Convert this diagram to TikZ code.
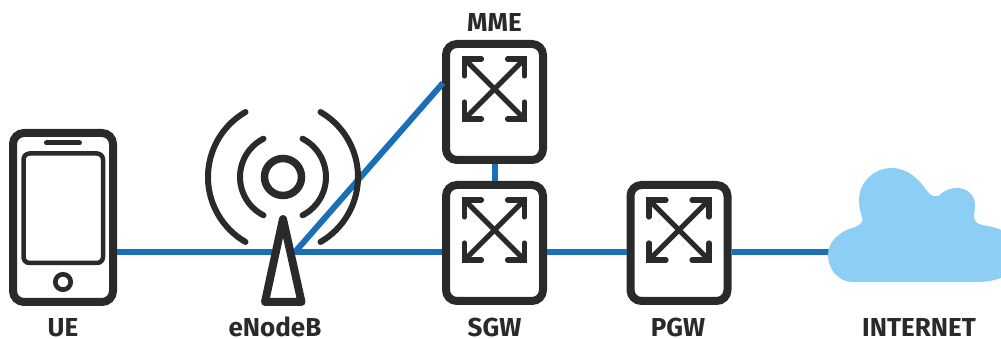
\documentclass[tikz,border=0pt]{standalone}
\usepackage{fontspec}
\setmainfont{Fira Sans}
\usetikzlibrary{calc}
\definecolor{icondark}{HTML}{2A2A2A}
\definecolor{linkblue}{HTML}{1A6FB6}
\definecolor{cloudblue}{HTML}{8DCFF4}
\tikzset{
    switchbox/.style={draw=icondark, line width=8pt, rounded corners=11pt, minimum width=97pt, minimum height=116pt, inner sep=0pt},
    netlabel/.style={text=icondark, font=\fontsize{26}{26}\selectfont\bfseries, inner sep=0pt, anchor=base},
    netlink/.style={draw=linkblue, line width=6pt},
    crossline/.style={draw=icondark, line width=5.2pt, line cap=round, line join=miter}
}
\newcommand{\crossarrows}[1]{
    \begin{scope}[shift={($(#1)+(0,13)$)}]
        \draw[crossline] (-30,30) -- (30,-30);
        \draw[crossline] (-30,-30) -- (30,30);
        \foreach \sx/\sy in {1/1, 1/-1, -1/1, -1/-1}
            \draw[crossline] (\sx*13,\sy*30) -- (\sx*30,\sy*30) -- (\sx*30,\sy*13);
    \end{scope}
}

\begin{document}
\begin{tikzpicture}[x=1pt, y=1pt]
    \useasboundingbox (0,0) rectangle (1001,339);
    \clip (0,0) rectangle (1001,339);

    \node[draw=icondark, line width=8pt, rounded corners=11pt, minimum width=100pt, minimum height=169pt, inner sep=0pt] (ue) at (63,121.5) {};
    \node[switchbox] (mme) at (494.5,237) {};
    \node[switchbox] (sgw) at (494.5,96) {};
    \node[switchbox] (pgw) at (679,96) {};
    \coordinate (enb) at (295,87);
    \coordinate (mmeport) at (443,256);
    \coordinate (cloudport) at (832,87);

    \draw[netlink] (ue.east |- enb) -- (enb);
    \draw[netlink] (enb) -- (sgw.west |- enb);
    \draw[netlink] (enb) -- (mmeport);
    \draw[netlink] (mme) -- (sgw);
    \draw[netlink] (sgw.east |- enb) -- (pgw.west |- enb);
    \draw[netlink] (pgw.east |- enb) -- (cloudport);

    % phone
    \draw[icondark, line width=4.5pt, rounded corners=6pt] (23.5,76) rectangle (103,185.5);
    \draw[icondark, line width=5pt, line cap=round] (46.5,196) -- (79.5,196);
    \draw[icondark, line width=4.7pt] (63,57) circle (7.7);

    % antenna
    \draw[icondark, line width=7.5pt] (283,162) circle (18.5);
    \draw[icondark, line width=6pt, line cap=round] (283,162) ++(117:43) arc (117:243:43);
    \draw[icondark, line width=6pt, line cap=round] (283,162) ++(63:43) arc (63:-63:43);
    \draw[icondark, line width=6pt, line cap=round] (283,162) ++(120:75) arc (120:240:75);
    \draw[icondark, line width=6pt, line cap=round] (283,162) ++(60:75) arc (60:-60:75);
    \draw[icondark, fill=white, line width=8pt, line join=round] (283,120) -- (265,37) -- (301.5,37) -- cycle;

    \crossarrows{mme}
    \crossarrows{sgw}
    \crossarrows{pgw}

    % cloud
    \fill[cloudblue] (853,57) .. controls (838,57) and (828,70) .. (828,84)
        .. controls (828,98) and (840,108) .. (855,112)
        .. controls (861,114) and (864,118) .. (862,122)
        .. controls (860,128) and (859,133) .. (859,139)
        .. controls (859,157) and (874,171) .. (892,171)
        .. controls (907,171) and (919,160) .. (927,148)
        .. controls (930,143) and (937,140) .. (942,146)
        .. controls (946,149) and (951,151) .. (957,151)
        .. controls (967,151) and (975,144) .. (975,134)
        .. controls (975,129) and (974,127) .. (974,123)
        .. controls (974,118) and (977,115) .. (982,114)
        .. controls (1005,111) and (1022,100) .. (1022,84)
        .. controls (1022,68) and (1000,57) .. (978,57) -- cycle;

    \node[netlabel] (uelabel) at (63,2.5) {UE};
    \node[netlabel] (enblabel) at (275,2.5) {eNodeB};
    \node[netlabel] (mmelabel) at (494.5,307) {MME};
    \node[netlabel] (sgwlabel) at (494.5,2.5) {SGW};
    \node[netlabel] (pgwlabel) at (678,2.5) {PGW};
    \node[netlabel] (cloudlabel) at (919,2.5) {INTERNET};
\end{tikzpicture}
\end{document}
